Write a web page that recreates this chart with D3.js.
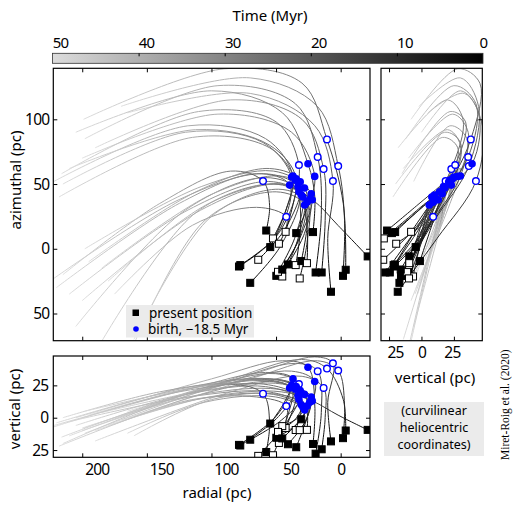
<!DOCTYPE html>
<html>
<head>
<meta charset="utf-8">
<script src="https://cdn.jsdelivr.net/npm/d3@7"></script>
<style>
body { margin: 0; background: #fff; }
text { font-family: "Noto Sans", sans-serif; fill: #000; }
</style>
</head>
<body>
<svg id="fig" width="513" height="507"></svg>
<script>

// time of each keypoint along a track (Myr), birth is index 2
var times = [0, -9, -18.5, -28, -39, -50];
var birthIndex = 2;

// one row per star, values at the times above (pc)
var radial = [
  [-20.9, 2, 22, 48, 108, 200],
  [7.5, 10, 6, 20, 70, 165],
  [-1.8, -3, 1.9, 18, 70, 170],
  [-3.9, -2, 10.6, 30, 90, 199],
  [19.4, 15, 17.8, 35, 95, 198],
  [14.7, 12, 13.2, 30, 85, 190],
  [21.4, 20, 25.3, 45, 100, 205],
  [34.4, 25, 20.1, 38, 95, 200],
  [42.6, 36, 32.3, 50, 110, 216],
  [57.6, 55, 60.1, 85, 140, 215],
  [54.5, 43, 36.9, 58, 118, 222],
  [52.4, 42, 37.9, 60, 120, 215],
  [47.8, 43, 42.1, 65, 115, 175],
  [78.7, 50, 39.5, 65, 125, 220],
  [77.7, 48, 34.4, 55, 112, 210],
  [63.8, 42, 31.3, 55, 110, 195],
  [70, 46, 32.3, 58, 120, 205],
  [49.8, 34, 27.9, 50, 105, 165],
  [45.2, 33, 29.2, 52, 112, 190],
  [48.5, 35, 30.5, 56, 118, 210],
  [45.2, 30, 22.8, 45, 100, 185],
  [40.8, 28, 24, 46, 102, 180],
  [34.8, 31, 35, 55, 115, 218],
  [30.5, 26, 28, 52, 108, 198],
  [26.1, 26, 33, 60, 125, 225],
  [31.7, 26, 26, 48, 100, 160]
];
var azimuthal = [
  [-5.9, 18, 37.9, 50, 30, -40],
  [-33.2, 8, 52.3, 95, 120, 105],
  [-20.9, 22, 63.9, 110, 132, 110],
  [-16.2, 35, 84.5, 128, 139, 100],
  [-18.3, 26, 70.9, 112, 126, 85],
  [-18.3, 22, 61.6, 100, 115, 78],
  [12.9, 40, 65.7, 105, 122, 90],
  [12.1, 34, 55.9, 90, 104, 70],
  [13.1, 38, 64.7, 98, 106, 58],
  [14.1, 33, 52.3, 60, 35, -20],
  [1.3, 28, 56.2, 85, 95, 52],
  [8, 31, 55.4, 82, 90, 50],
  [3.9, 14, 24.7, 32, 18, -35],
  [-13.7, 10, 49.2, 58, 35, -30],
  [-12.6, 12, 54.1, 80, 92, 62],
  [-8.5, 17, 51.8, 62, 45, -10],
  [-26.3, 3, 44, 55, 30, -60],
  [-20.9, 4, 33.8, 44, 22, -85],
  [-21.4, 8, 40, 50, 28, -80],
  [-17.8, 10, 41.5, 52, 30, -35],
  [-16, 12, 42.5, 56, 42, -15],
  [-12.1, 12, 38, 50, 35, -25],
  [-12.6, 19, 53, 78, 86, 40],
  [-9.5, 18, 47, 60, 48, 0],
  [-11.1, 17, 48, 58, 38, -25],
  [-22.9, 5, 36, 46, 25, -70]
];
var vertical = [
  [-9.4, 2, 13, 22, 18, -8],
  [-18.3, 12, 42, 47, 33, 5],
  [-15.8, 10, 36.5, 44, 30, -2],
  [-9.9, 14, 38, 45, 28, -8],
  [-27.8, 4, 36, 42, 25, -12],
  [-24.4, 0, 23, 32, 20, -18],
  [-20.3, 9, 39, 44, 30, 0],
  [-22.8, 3, 28, 36, 24, -10],
  [-8, 9, 26, 34, 22, -15],
  [-26.5, -4, 18.6, 26, 20, 0],
  [-4.5, 13, 30, 35, 22, -6],
  [-29, -2, 25, 30, 18, -20],
  [-19.5, -5, 9, 16, 14, -5],
  [-21, 1, 23, 30, 22, -4],
  [-21.5, 1, 24, 30, 20, -14],
  [-29.5, -4, 21, 30, 24, 2],
  [-17, -2, 14, 24, 18, -6],
  [-15.5, -5, 6, 16, 12, -12],
  [-6.5, 0, 8, 18, 14, -10],
  [-11, -1, 10, 20, 16, -3],
  [-16, 0, 16, 26, 22, 4],
  [-20.5, -4, 12, 20, 16, -6],
  [-9.5, 6, 22, 28, 16, -22],
  [-1.2, 8, 18, 28, 24, 5],
  [-9.4, 4, 17, 26, 20, -8],
  [-9.6, 0, 9, 18, 14, -14]
];
var presentOpen = [false, false, false, false, false, false, false, false, true, false, false, true, true,
                   false, false, true, false, false, true, true, false, false, true, false, true, true];
var birthOpen = [false, true, true, true, true, true, false, false, true, true, false, false, true,
                 false, false, false, false, false, false, false, false, false, false, false, false, false];

var timeTicks = [50, 40, 30, 20, 10, 0];
var radialTicks = [200, 150, 100, 50, 0];
var azimuthalTicks = [100, 50, 0, -50];
var verticalTicks = [25, 0, -25];

var svg = d3.select("#fig");
var defs = svg.append("defs");

var main = {left: 53.3, right: 370, top: 68.3, bottom: 340.7};
var side = {left: 381, right: 482.3, top: 68.3, bottom: 340.7};
var low = {left: 53.3, right: 370, top: 356, bottom: 457.3};

var xR = d3.scaleLinear().domain([222.4, -22.7]).range([main.left, main.right]);
var yA = d3.scaleLinear().domain([-71, 139.4]).range([main.bottom, main.top]);
var xV = d3.scaleLinear().domain([-31.2, 46.9]).range([side.left, side.right]);
var yV = d3.scaleLinear().domain([-30.6, 47.7]).range([low.bottom, low.top]);
var xT = d3.scaleLinear().domain([50, 0]).range([52.5, 483]);
var color = d3.scaleLinear().domain([0, 50]).range(["#000000", "#dcdcdc"]);

// colour bar
var cb = defs.append("linearGradient").attr("id", "cbar");
cb.append("stop").attr("offset", 0).attr("stop-color", color(50));
cb.append("stop").attr("offset", 1).attr("stop-color", color(0));
svg.append("rect")
  .attr("x", xT(50)).attr("y", 53.3)
  .attr("width", xT(0) - xT(50)).attr("height", 10)
  .attr("fill", "url(#cbar)").attr("stroke", "#333").attr("stroke-width", 0.8);
var cAxis = svg.append("g")
  .attr("transform", "translate(0,53.3)")
  .call(d3.axisTop(xT).tickValues(timeTicks).tickSize(-3).tickPadding(5.5));
cAxis.select(".domain").remove();
cAxis.selectAll("text").attr("font-size", 15).attr("letter-spacing", -0.8)
  .attr("dx", function(d) { return d === 0 ? 0 : 7.5; });
cAxis.selectAll("line").filter(function(d) { return d === 0 || d === 50; }).remove();

svg.append("text").attr("x", 270).attr("y", 20.5).attr("text-anchor", "middle")
  .attr("font-size", 15).text("Time (Myr)");

// panels
var uid = 0;
var line = d3.line().curve(d3.curveCatmullRom.alpha(0.5));

function panel(box, name, xs, ys, getX, getY) {
  defs.append("clipPath").attr("id", "clip-" + name)
    .append("rect").attr("x", box.left).attr("y", box.top)
    .attr("width", box.right - box.left).attr("height", box.bottom - box.top);
  var g = svg.append("g").attr("clip-path", "url(#clip-" + name + ")");
  var layers = [];
  for (var k = times.length - 2; k >= 0; k--) layers[k] = g.append("g");

  radial.forEach(function(r, i) {
    var pts = times.map(function(t, k) { return [xs(getX(i)[k]), ys(getY(i)[k])]; });
    var d = line(pts);
    var probe = g.append("path").attr("d", d).attr("fill", "none");
    var node = probe.node();
    var total = node.getTotalLength();
    var samples = [];
    for (var s = 0; s <= Math.ceil(total); s++) {
      var p = node.getPointAtLength(Math.min(s, total));
      samples.push([p.x, p.y]);
    }
    var marks = [0], j = 0;
    for (var k = 1; k < pts.length - 1; k++) {
      var best = j, bd = Infinity;
      for (var s2 = j; s2 < samples.length; s2++) {
        var dx = samples[s2][0] - pts[k][0], dy = samples[s2][1] - pts[k][1];
        var dd = dx * dx + dy * dy;
        if (dd < bd) { bd = dd; best = s2; }
      }
      marks.push(Math.min(best, total));
      j = best;
    }
    marks.push(total);
    probe.remove();

    for (k = 0; k < pts.length - 1; k++) {
      var gid = "seg" + (uid++);
      var lg = defs.append("linearGradient").attr("id", gid)
        .attr("gradientUnits", "userSpaceOnUse")
        .attr("x1", pts[k][0]).attr("y1", pts[k][1])
        .attr("x2", pts[k + 1][0]).attr("y2", pts[k + 1][1]);
      lg.append("stop").attr("offset", 0).attr("stop-color", color(-times[k]));
      lg.append("stop").attr("offset", 1).attr("stop-color", color(-times[k + 1]));
      var a = marks[k], b = marks[k + 1];
      layers[k].append("path")
        .attr("d", d)
        .attr("fill", "none")
        .attr("stroke", "url(#" + gid + ")")
        .attr("stroke-width", 1)
        .attr("stroke-dasharray", "0," + a + "," + Math.max(b - a, 0) + "," + (total + 10));
    }
  });

  // present positions
  g.selectAll(".present").data(radial).enter().append("rect")
    .attr("x", function(r, i) { return xs(getX(i)[0]) - 3.5; })
    .attr("y", function(r, i) { return ys(getY(i)[0]) - 3.5; })
    .attr("width", 7).attr("height", 7)
    .attr("fill", function(r, i) { return presentOpen[i] ? "#fff" : "#000"; })
    .attr("stroke", "#000").attr("stroke-width", 1);

  // birth positions
  g.selectAll(".birth").data(radial).enter().append("circle")
    .attr("cx", function(r, i) { return xs(getX(i)[birthIndex]); })
    .attr("cy", function(r, i) { return ys(getY(i)[birthIndex]); })
    .attr("r", function(r, i) { return birthOpen[i] ? 3.3 : 3.8; })
    .attr("fill", function(r, i) { return birthOpen[i] ? "#fff" : "#0000ff"; })
    .attr("stroke", "#0000ff").attr("stroke-width", function(r, i) { return birthOpen[i] ? 1.4 : 0; });

  svg.append("rect").attr("x", box.left).attr("y", box.top)
    .attr("width", box.right - box.left).attr("height", box.bottom - box.top)
    .attr("fill", "none").attr("stroke", "#000").attr("stroke-width", 1.2);
}

function frameAxis(gen, x, y) {
  var a = svg.append("g").attr("transform", "translate(" + x + "," + y + ")").call(gen);
  a.select(".domain").remove();
  a.selectAll("text").attr("font-size", 15.5).attr("letter-spacing", -0.8);
  return a;
}

panel(main, "main", xR, yA, function(i) { return radial[i]; }, function(i) { return azimuthal[i]; });
panel(side, "side", xV, yA, function(i) { return vertical[i]; }, function(i) { return azimuthal[i]; });
panel(low, "low", xR, yV, function(i) { return radial[i]; }, function(i) { return vertical[i]; });

var absFmt = function(d) { return Math.abs(d); };

// main panel ticks
frameAxis(d3.axisTop(xR).tickValues(radialTicks).tickSize(-4).tickFormat(""), 0, main.top);
frameAxis(d3.axisBottom(xR).tickValues(radialTicks).tickSize(-4).tickFormat(""), 0, main.bottom);
frameAxis(d3.axisLeft(yA).tickValues(azimuthalTicks).tickSize(-4).tickPadding(4).tickFormat(absFmt), main.left, 0);
frameAxis(d3.axisRight(yA).tickValues(azimuthalTicks).tickSize(-4).tickFormat(""), main.right, 0);

// side panel ticks
frameAxis(d3.axisTop(xV).tickValues([-25, 0, 25]).tickSize(-4).tickFormat(""), 0, side.top);
frameAxis(d3.axisBottom(xV).tickValues([-25, 0, 25]).tickSize(-4).tickPadding(6.5).tickFormat(absFmt), 0, side.bottom)
  .selectAll("text").attr("dx", function(d) { return d < 0 ? 6 : (d > 0 ? -2 : 0); });
frameAxis(d3.axisLeft(yA).tickValues(azimuthalTicks).tickSize(-4).tickFormat(""), side.left, 0);
frameAxis(d3.axisRight(yA).tickValues(azimuthalTicks).tickSize(-4).tickFormat(""), side.right, 0);

// lower panel ticks
frameAxis(d3.axisTop(xR).tickValues(radialTicks).tickSize(-4).tickFormat(""), 0, low.top);
frameAxis(d3.axisBottom(xR).tickValues(radialTicks).tickSize(-4).tickPadding(7).tickFormat(absFmt), 0, low.bottom)
  .selectAll("text").attr("dx", function(d) { return d === 0 ? 0 : 14.5; });
frameAxis(d3.axisLeft(yV).tickValues(verticalTicks).tickSize(-4).tickPadding(5).tickFormat(absFmt), low.left, 0);
frameAxis(d3.axisRight(yV).tickValues(verticalTicks).tickSize(-4).tickFormat(""), low.right, 0);

// axis titles
svg.append("text").attr("transform", "translate(21,180) rotate(-90)")
  .attr("text-anchor", "middle").attr("font-size", 15).text("azimuthal (pc)");
svg.append("text").attr("transform", "translate(20,409) rotate(-90)")
  .attr("text-anchor", "middle").attr("font-size", 15).text("vertical (pc)");
svg.append("text").attr("x", 217).attr("y", 498)
  .attr("text-anchor", "middle").attr("font-size", 15).text("radial (pc)");
svg.append("text").attr("x", 435).attr("y", 383)
  .attr("text-anchor", "middle").attr("font-size", 15).text("vertical (pc)");

// legend
var leg = svg.append("g");
leg.append("rect").attr("x", 126).attr("y", 305).attr("width", 128).attr("height", 32.5).attr("fill", "#ebebeb");
leg.append("rect").attr("x", 132.5).attr("y", 309.5).attr("width", 6.5).attr("height", 6.5).attr("fill", "#000");
leg.append("text").attr("x", 149).attr("y", 317.5).attr("font-size", 13.5).text("present position");
leg.append("circle").attr("cx", 136).attr("cy", 329).attr("r", 2.8).attr("fill", "#0000ff");
leg.append("text").attr("x", 148).attr("y", 334).attr("font-size", 13.5).text("birth, \u221218.5 Myr");

// coordinates note
var note = svg.append("g");
note.append("rect").attr("x", 384).attr("y", 402).attr("width", 100).attr("height", 54).attr("fill", "#ebebeb");
["(curvilinear", "heliocentric", "coordinates)"].forEach(function(s, i) {
  note.append("text").attr("x", 434).attr("y", 415 + i * 17)
    .attr("text-anchor", "middle").attr("font-size", 12.5).text(s);
});

svg.append("text").attr("transform", "translate(509,460) rotate(-90)")
  .style("font-family", "'Liberation Serif', serif").attr("font-size", 11.5)
  .text("Miret-Roig et al. (2020)");

</script>
</body>
</html>
